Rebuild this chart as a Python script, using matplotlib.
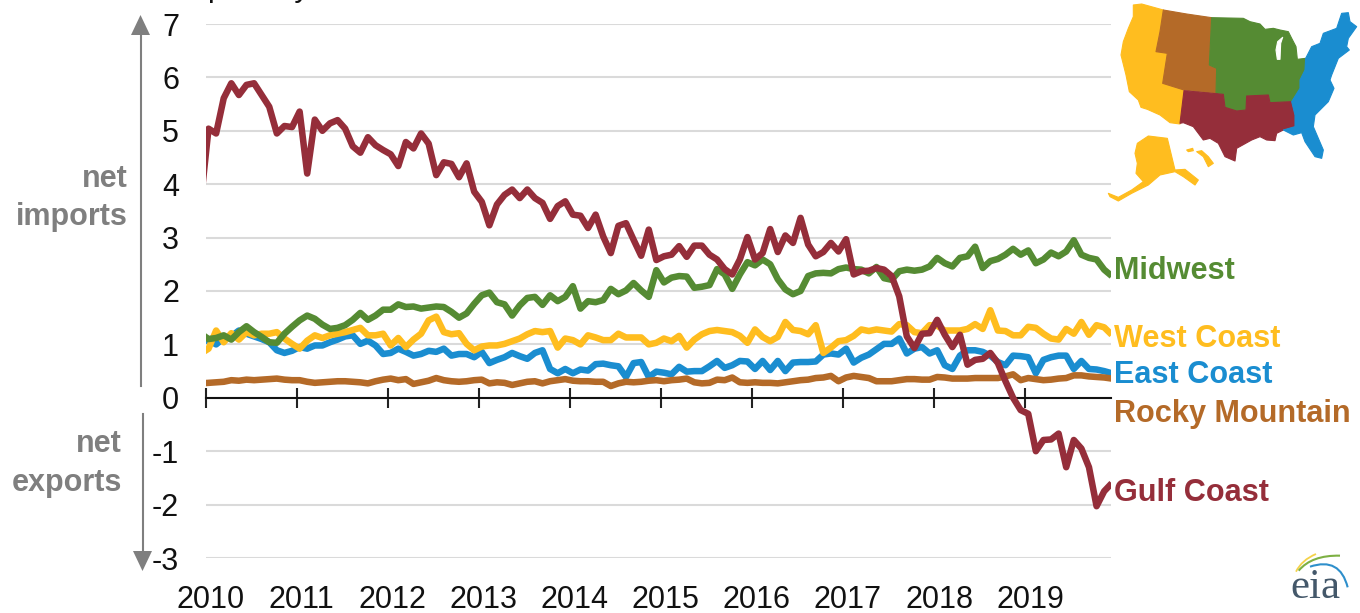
import numpy as np
import matplotlib
matplotlib.use("Agg")
import matplotlib.pyplot as plt
from matplotlib.patches import Polygon, PathPatch
from matplotlib.path import Path

plt.rcParams['font.family'] = ['Liberation Sans', 'DejaVu Sans']

years = [str(y) for y in range(2010, 2020)]
y_ticks = [7, 6, 5, 4, 3, 2, 1, 0, -1, -2, -3]

gulf = [3.7, 5.04, 4.95, 5.61, 5.89, 5.67, 5.86, 5.89, 5.67, 5.45,
        4.95, 5.09, 5.07, 5.36, 4.2, 5.21, 5.0, 5.14, 5.2, 5.04,
        4.71, 4.59, 4.88, 4.73, 4.64, 4.56, 4.34, 4.79, 4.67, 4.95,
        4.76, 4.17, 4.41, 4.38, 4.13, 4.39, 3.86, 3.67, 3.23, 3.62,
        3.80, 3.9, 3.74, 3.9, 3.74, 3.65, 3.35, 3.59, 3.68, 3.43,
        3.41, 3.18, 3.43, 3.02, 2.71, 3.22, 3.27, 2.96, 2.66, 3.15,
        2.58, 2.65, 2.68, 2.84, 2.64, 2.85, 2.85, 2.68, 2.59, 2.41,
        2.31, 2.59, 3.01, 2.59, 2.71, 3.16, 2.73, 3.04, 2.9, 3.37,
        2.87, 2.65, 2.73, 2.9, 2.74, 2.97, 2.31, 2.37, 2.38, 2.43,
        2.4, 2.28, 1.9, 1.15, .93, 1.2, 1.21, 1.46, 1.18, .95,
        1.18, .62, .71, .73, .84, .65, .31, .0, -.23, -.3,
        -1.0, -.79, -.78, -.67, -1.3, -.79, -.95, -1.3, -2.03, -1.75, -1.6]
midwest = [1.2, 1.1, 1.12, 1.17, 1.09, 1.23, 1.34, 1.23, 1.14, 1.04,
           1.03, 1.2, 1.33, 1.45, 1.54, 1.48, 1.37, 1.29, 1.31, 1.36,
           1.46, 1.59, 1.46, 1.54, 1.65, 1.65, 1.75, 1.7, 1.71, 1.67,
           1.69, 1.71, 1.7, 1.61, 1.5, 1.58, 1.76, 1.92, 1.97, 1.79,
           1.75, 1.54, 1.73, 1.87, 1.89, 1.74, 1.92, 1.81, 1.89, 2.09,
           1.67, 1.81, 1.79, 1.83, 2.04, 1.94, 2.01, 2.15, 2.01, 1.89,
           2.39, 2.16, 2.25, 2.28, 2.27, 2.06, 2.08, 2.11, 2.41, 2.31,
           2.04, 2.31, 2.54, 2.48, 2.59, 2.5, 2.22, 2.03, 1.94, 2.0,
           2.28, 2.33, 2.34, 2.33, 2.41, 2.44, 2.41, 2.4, 2.33, 2.45,
           2.24, 2.21, 2.37, 2.4, 2.38, 2.4, 2.46, 2.62, 2.52, 2.46,
           2.62, 2.65, 2.83, 2.43, 2.56, 2.6, 2.68, 2.79, 2.68, 2.76,
           2.52, 2.59, 2.72, 2.65, 2.74, 2.95, 2.68, 2.62, 2.59, 2.4, 2.28]
west = [.83, .92, 1.26, 1.04, 1.21, 1.09, 1.23, 1.17, 1.2, 1.2,
        1.23, 1.11, 1.01, .92, 1.07, 1.17, 1.12, 1.17, 1.2, 1.23,
        1.27, 1.31, 1.17, 1.17, 1.2, .98, 1.12, .95, 1.09, 1.2,
        1.45, 1.52, 1.23, 1.19, 1.21, 1.01, .89, .96, .98, .98,
        1.01, 1.06, 1.11, 1.19, 1.25, 1.23, 1.25, .94, 1.11, 1.08,
        1.0, 1.17, 1.13, 1.08, 1.08, 1.2, 1.13, 1.13, 1.13, 1.0,
        1.03, 1.11, 1.06, 1.16, .94, 1.09, 1.19, 1.25, 1.27, 1.25,
        1.23, 1.16, 1.03, 1.28, 1.14, 1.06, 1.14, 1.42, 1.27, 1.25,
        1.19, 1.36, .84, .94, 1.06, 1.08, 1.16, 1.28, 1.25, 1.28,
        1.26, 1.24, 1.38, 1.36, 1.23, 1.21, 1.36, 1.35, 1.26, 1.26,
        1.26, 1.29, 1.38, 1.29, 1.64, 1.26, 1.25, 1.17, 1.17, 1.33,
        1.31, 1.2, 1.11, 1.09, 1.29, 1.2, 1.42, 1.18, 1.36, 1.32, 1.18]
east = [1.05, 1.08, 1.0, 1.12, 1.15, 1.26, 1.2, 1.15, 1.1, 1.04,
        .89, .84, .88, .95, .92, .98, .98, 1.04, 1.09, 1.15,
        1.17, 1.01, 1.07, .98, .82, .84, .92, .86, .79, .82,
        .88, .86, .92, .79, .82, .82, .76, .86, .65, .71,
        .76, .84, .78, .73, .84, .89, .54, .46, .54, .46,
        .53, .51, .63, .64, .61, .59, .39, .65, .67, .39,
        .49, .47, .44, .58, .49, .5, .5, .59, .69, .56,
        .61, .69, .68, .54, .69, .52, .69, .5, .66, .67,
        .67, .68, .81, .83, .81, .92, .66, .75, .81, .91,
        1.01, 1.01, 1.11, .83, .92, .95, .83, .89, .61, .54,
        .79, .89, .89, .86, .79, .67, .61, .79, .78, .76,
        .46, .71, .76, .79, .79, .54, .69, .54, .53, .5, .46]
rocky = [.27, .28, .29, .30, .33, .32, .34, .33, .34, .35,
         .36, .34, .33, .33, .30, .28, .29, .30, .31, .31,
         .30, .29, .27, .31, .34, .36, .33, .35, .26, .29,
         .32, .37, .33, .31, .30, .31, .33, .34, .27, .29,
         .28, .24, .27, .30, .31, .27, .31, .33, .35, .32,
         .31, .31, .30, .30, .22, .27, .30, .29, .30, .32,
         .33, .31, .33, .34, .36, .29, .27, .28, .34, .33,
         .38, .29, .28, .29, .28, .28, .27, .29, .31, .33,
         .34, .37, .38, .41, .31, .38, .41, .39, .37, .31,
         .31, .31, .33, .35, .35, .34, .34, .39, .38, .36,
         .36, .36, .37, .37, .37, .37, .40, .44, .33, .37,
         .35, .33, .34, .36, .37, .42, .42, .40, .39, .38, .36]

GULF, MID, WEST, EAST, ROCKY = '#952E3A', '#558B33', '#FFBD1F', '#1A8DD0', '#B46A28'
GRAY = '#7F7F7F'
W, H = 1360, 613
LX, RX, TY, BY = 205.5, 1111.0, 24.0, 558.0
FS = 22

fig = plt.figure(figsize=(13.6, 6.13), dpi=100)
ax = fig.add_axes([LX / W, 1 - BY / H, (RX - LX) / W, (BY - TY) / H])
months = np.arange(len(gulf)) - 0.6
ax.set_xlim(0, (RX - LX) / 7.59)
ax.set_ylim(-3, 7)
ax.set_yticks(y_ticks)
ax.set_yticklabels([str(v) for v in y_ticks])
year_pos = np.arange(len(years)) * 12
ax.set_xticks(year_pos)
ax.set_xticklabels([''] * len(years))
# year labels sit slightly right of their tick marks, as in the original
ax.set_xticks(year_pos + 0.65, minor=True)
ax.set_xticklabels(years, minor=True)
ax.tick_params(axis='y', length=0, pad=19, labelsize=FS, labelcolor='#111111')
ax.tick_params(axis='x', which='major', length=14.5, width=1.5, direction='inout', color='#222222')
ax.tick_params(axis='x', which='minor', length=0, pad=135, labelsize=FS, labelcolor='#111111')
for s in ('left', 'right', 'top'):
    ax.spines[s].set_visible(False)
ax.spines['bottom'].set_position(('data', 0))
ax.spines['bottom'].set_color('#111111')
ax.spines['bottom'].set_linewidth(1.5)
ax.grid(axis='y', color='#DADADA', linewidth=1.5)
ax.set_axisbelow(True)

for series, col, z in [(east, EAST, 3), (rocky, ROCKY, 4), (west, WEST, 5), (midwest, MID, 6), (gulf, GULF, 7)]:
    ax.plot(months, series, color=col, lw=4.7, solid_joinstyle='round', solid_capstyle='butt', zorder=z)

# overlay in pixel coordinates for annotations, map and logo
ov = fig.add_axes([0, 0, 1, 1], facecolor='none')
ov.set_xlim(0, W)
ov.set_ylim(H, 0)
ov.axis('off')

for txt, y, col in [('Midwest', 271, MID), ('West Coast', 339, WEST), ('East Coast', 375, EAST),
                    ('Rocky Mountain', 414, ROCKY), ('Gulf Coast', 493, GULF)]:
    ov.text(1114, y, txt, color=col, fontsize=22.1, fontweight='bold', va='center', ha='left')

ov.text(128, 179, 'net', color=GRAY, fontsize=FS, fontweight='bold', ha='right', va='center')
ov.text(128, 217, 'imports', color=GRAY, fontsize=FS, fontweight='bold', ha='right', va='center')
ov.text(122, 444, 'net', color=GRAY, fontsize=FS, fontweight='bold', ha='right', va='center')
ov.text(122, 483, 'exports', color=GRAY, fontsize=FS, fontweight='bold', ha='right', va='center')
ov.text(208, -4, 'per day', color='#111111', fontsize=FS, ha='left', va='baseline', clip_on=False)

# direction arrows
ov.plot([140.5, 140.5], [30, 386], color=GRAY, lw=1.5)
ov.add_patch(Polygon([(140.5, 15), (131, 35), (150, 35)], closed=True, fc=GRAY, ec='none'))
ov.plot([142.5, 142.5], [414, 555], color=GRAY, lw=1.5)
ov.add_patch(Polygon([(142.5, 571), (133, 551), (152, 551)], closed=True, fc=GRAY, ec='none'))


def region(points, color):
    pts = [(1060 + x / 3, y / 3) for x, y in points]
    ov.add_patch(Polygon(pts, closed=True, fc=color, ec=color, lw=0.8, joinstyle='round'))


region([(220, 15), (245, 12), (310, 30), (300, 95), (288, 155), (322, 160), (308, 250), (372, 270), (360, 372),
        (330, 368), (300, 345), (262, 328), (243, 322), (235, 300), (208, 275), (198, 225), (183, 165), (190, 125),
        (205, 85), (220, 50)], WEST)
region([(310, 30), (380, 42), (455, 53), (448, 195), (470, 205), (468, 280), (372, 270), (308, 250), (322, 160),
        (288, 155), (300, 95)], ROCKY)
region([(455, 53), (550, 55), (570, 65), (600, 72), (615, 88), (640, 85), (660, 90), (685, 95), (695, 115), (708, 140),
        (712, 178), (737, 175), (735, 210), (720, 240), (720, 265), (695, 305), (630, 308), (625, 285), (560, 288),
        (558, 330), (530, 333), (495, 322), (490, 283), (468, 280), (470, 205), (448, 195)], MID)
region([(653, 125), (668, 112), (662, 130), (660, 178), (652, 178), (648, 150)], 'white')
region([(372, 272), (490, 283), (495, 322), (530, 333), (558, 330), (560, 288), (625, 285), (630, 308), (695, 305),
        (705, 345), (705, 380), (670, 390), (650, 400), (645, 422), (620, 420), (600, 410), (575, 420), (530, 445),
        (525, 483), (495, 470), (475, 430), (450, 415), (430, 420), (400, 380), (370, 368), (360, 370)], GULF)
region([(737, 175), (755, 140), (780, 130), (790, 100), (830, 85), (845, 40), (865, 38), (870, 65), (890, 80), (865, 115),
        (860, 140), (868, 150), (835, 175), (815, 225), (810, 240), (822, 265), (805, 305), (765, 345), (760, 380),
        (790, 450), (785, 475), (765, 470), (735, 425), (725, 398), (700, 405), (670, 390), (705, 380), (705, 345),
        (695, 305), (720, 265), (720, 240), (735, 210)], EAST)
region([(232, 430), (265, 408), (322, 415), (345, 510), (375, 508), (415, 540), (405, 555), (370, 530), (345, 515),
        (300, 525), (265, 555), (215, 580), (175, 603), (150, 590), (145, 580), (175, 592), (215, 570), (250, 545),
        (228, 520), (232, 490), (225, 460)], WEST)
region([(380, 450), (398, 445), (400, 452), (385, 455)], WEST)
region([(410, 455), (425, 452), (445, 470), (460, 490), (445, 500), (430, 470)], WEST)


def arc(p0, p1, p2, color, lw):
    verts = [(1000 + x / 3, 380 + y / 3) for x, y in (p0, p1, p2)]
    ov.add_patch(PathPatch(Path(verts, [Path.MOVETO, Path.CURVE3, Path.CURVE3]), fc='none', ec=color, lw=lw))


arc((888, 575), (905, 540), (948, 522), '#F4D24A', 1.3)
arc((896, 572), (935, 525), (1020, 527), '#7DB043', 1.5)
arc((930, 560), (1020, 530), (1043, 622), '#2E8FCB', 1.5)
ov.text(1315, 588, 'eia', family='Liberation Serif', fontsize=31, color='#44586A', ha='center', va='center')

fig.savefig('out.png', dpi=100)
